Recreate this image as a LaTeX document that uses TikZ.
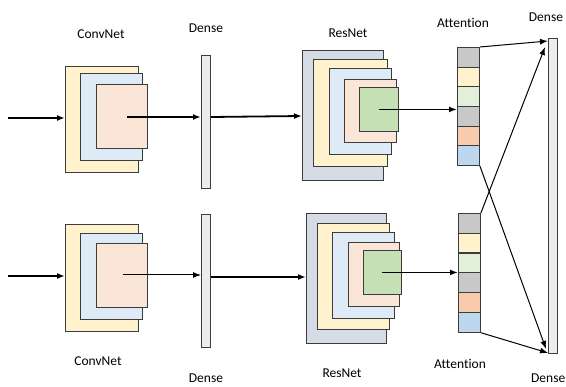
\documentclass[tikz,border=0pt]{standalone}
\usepackage{fontspec}
\setmainfont[Ligatures={NoCommon}]{Carlito}
\usepackage{tikz}
\usetikzlibrary{arrows.meta,positioning,calc}

\definecolor{edgegray}{RGB}{60,60,60}
\definecolor{pyellow}{RGB}{255,242,204}
\definecolor{pblue}{RGB}{222,235,247}
\definecolor{ppink}{RGB}{251,229,214}
\definecolor{pgreen}{RGB}{197,224,180}
\definecolor{pslate}{RGB}{214,220,229}
\definecolor{pgray}{RGB}{200,200,200}
\definecolor{plgreen}{RGB}{226,239,218}
\definecolor{porange}{RGB}{248,203,173}
\definecolor{psky}{RGB}{189,215,238}
\definecolor{densefill}{RGB}{236,236,236}

\tikzset{
  layer/.style={draw=edgegray, line width=0.9pt, inner sep=0pt, anchor=north west},
  densebar/.style={layer, fill=densefill, minimum width=9pt},
  cell/.style={layer, minimum width=22pt, minimum height=19.67pt},
  lbl/.style={font=\fontsize{13.5}{15}\selectfont, inner sep=0pt},
  flow/.style={-{Latex[length=8pt,width=6pt]}, line width=1.8pt},
  thinflow/.style={-{Latex[length=8pt,width=6pt]}, line width=1pt}
}

\begin{document}
\begin{tikzpicture}[x=1pt,y=-1pt]
\useasboundingbox (0,0) rectangle (566,387);

% ---- upper branch ----
\node[layer, fill=pyellow, minimum width=73pt, minimum height=106pt] (cy1) at (65,66) {};
\node[layer, fill=pblue, minimum width=62pt, minimum height=87pt] (cb1) at (80,73) {};
\node[layer, fill=ppink, minimum width=51pt, minimum height=64pt] (cp1) at (96,84) {};
\node[densebar, minimum height=133pt] (d1) at (201,55) {};

\node[layer, fill=pslate, minimum width=81pt, minimum height=130pt] (rg1) at (302,50) {};
\node[layer, fill=pyellow, minimum width=74pt, minimum height=107pt] (ry1) at (313,59) {};
\node[layer, fill=pblue, minimum width=62pt, minimum height=86pt] (rb1) at (329,68) {};
\node[layer, fill=ppink, minimum width=52pt, minimum height=63pt] (rp1) at (344,79) {};
\node[layer, fill=pgreen, minimum width=39pt, minimum height=44pt] (rn1) at (359,87) {};

\foreach \c [count=\i] in {pgray,pyellow,plgreen,pgray,porange,psky}
  \node[cell, fill=\c] (a1-\i) at (457,{47+(\i-1)*19.67}) {};

% ---- lower branch ----
\node[layer, fill=pyellow, minimum width=73pt, minimum height=107pt] (cy2) at (65,224) {};
\node[layer, fill=pblue, minimum width=62pt, minimum height=86pt] (cb2) at (80,233) {};
\node[layer, fill=ppink, minimum width=51pt, minimum height=64pt] (cp2) at (96,243) {};
\node[densebar, minimum height=133pt] (d2) at (201,214) {};

\node[layer, fill=pslate, minimum width=80pt, minimum height=130pt] (rg2) at (306,213) {};
\node[layer, fill=pyellow, minimum width=72pt, minimum height=106pt] (ry2) at (317,223) {};
\node[layer, fill=pblue, minimum width=62pt, minimum height=86pt] (rb2) at (332,232) {};
\node[layer, fill=ppink, minimum width=51pt, minimum height=64pt] (rp2) at (348,242) {};
\node[layer, fill=pgreen, minimum width=38pt, minimum height=44pt] (rn2) at (363,250) {};

\foreach \c [count=\i] in {pgray,pyellow,plgreen,pgray,porange,psky}
  \node[cell, fill=\c] (a2-\i) at (458,{213+(\i-1)*19.83}) {};

% ---- final dense ----
\node[densebar, minimum height=315pt] (dr) at (548,38) {};

% labels
\node[lbl] (t-conv1) at (101,34) {ConvNet};
\node[lbl] (t-dense1) at (206,28) {Dense};
\node[lbl] (t-res1) at (348,33) {ResNet};
\node[lbl] (t-att1) at (463,23) {Attention};
\node[lbl] (t-dense3) at (546,17) {Dense};
\node[lbl] (t-conv2) at (98,361) {ConvNet};
\node[lbl] (t-dense2) at (206,378) {Dense};
\node[lbl] (t-res2) at (342,373) {ResNet};
\node[lbl] (t-att2) at (460,364) {Attention};
\node[lbl, anchor=east] (t-dense4) at (565.5,378.5) {Dense};

% connectors
\coordinate (in1) at (8,118);
\coordinate (in2) at (8,276);
\coordinate (s1) at (127,117);
\coordinate (s2) at (123,275);
\draw[flow] (in1) -- (in1 -| cy1.west);
\draw[flow] (in2) -- (in2 -| cy2.west);
\draw[flow] (s1) -- (s1 -| d1.west);
\draw[thinflow] (s2) -- (s2 -| d2.west);
\draw[flow] (d1.east |- 0,117) -- (rg1.west |- 0,116);
\draw[flow] (d2.east |- 0,277) -- (rg2.west |- 0,277);
\draw[flow] (rn1.center) -- (rn1.center -| a1-1.west);
\draw[flow] (rn2.center) -- (rn2.center -| a2-1.west);
\draw[thinflow] (a1-1.north east) -- ([yshift=-3pt]dr.north west);
\draw[thinflow] (a2-1.north east) -- ([xshift=-3pt,yshift=-9pt]dr.north west);
\draw[thinflow] (a1-6.south east) -- ([xshift=-2pt,yshift=5pt]dr.south west);
\draw[thinflow] (a2-6.south east) -- ([yshift=1pt]dr.south west);
\end{tikzpicture}
\end{document}
